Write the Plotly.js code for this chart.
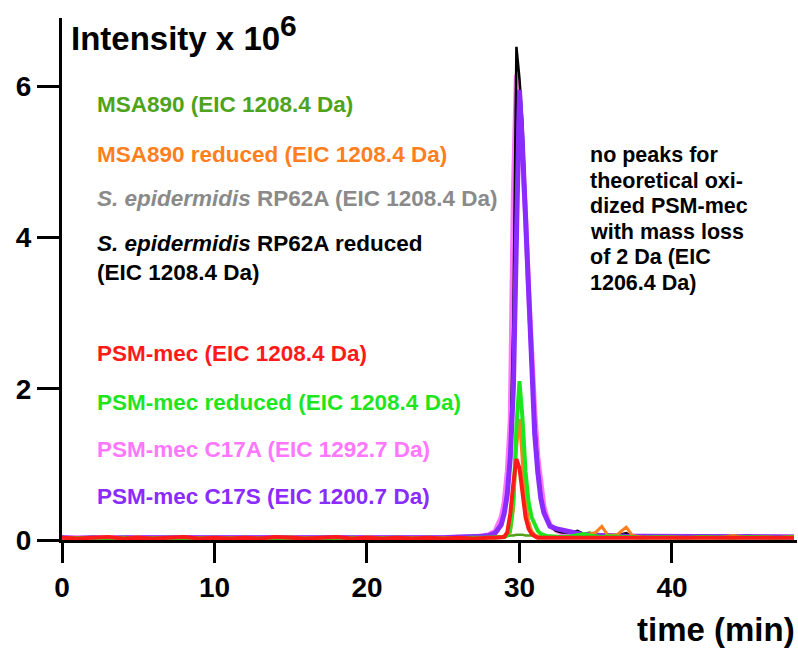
<!DOCTYPE html>
<html>
<head>
<meta charset="utf-8">
<script src="https://cdn.plot.ly/plotly-3.0.1.min.js"></script>
<style>html,body{margin:0;padding:0;background:#fff;}#chart{width:798px;height:653px;}</style>
</head>
<body>
<div id="chart"></div>
<script>
// retention time (min)
const time = [0,1,2,3,4,5,6,7,8,9,10,11,12,13,14,15,16,17,18,19,20,21,22,23,24,25,26,27,
  27.6,28.0,28.4,28.8,29.0,29.2,29.4,29.6,29.8,30.0,30.2,30.4,30.6,30.8,31.0,31.2,31.4,31.6,31.8,32.0,
  32.4,32.8,33.4,33.8,34.2,34.6,35.0,35.4,35.8,36.4,37.0,37.4,
  38,39,40,41,42,43,44,45,46,47,48];

// intensities x 10^6
const msa890 = [0.03,0.02,0.03,0.03,0.02,0.03,0.02,0.03,0.03,0.02,0.03,0.02,0.03,0.03,0.02,0.03,0.02,0.03,0.02,0.03,0.03,0.02,0.03,0.02,0.03,0.03,0.02,0.03,
  0.03,0.04,0.04,0.05,0.05,0.05,0.06,0.06,0.07,0.07,0.07,0.06,0.06,0.06,0.06,0.05,0.05,0.05,0.05,0.05,
  0.05,0.05,0.06,0.08,0.07,0.1,0.06,0.05,0.05,0.05,0.05,0.04,
  0.04,0.03,0.04,0.03,0.04,0.04,0.03,0.04,0.03,0.04,0.03];
const msa890Red = [0.02,0.03,0.03,0.02,0.03,0.04,0.02,0.03,0.02,0.03,0.02,0.03,0.03,0.02,0.03,0.04,0.03,0.02,0.03,0.02,0.04,0.03,0.02,0.03,0.02,0.03,0.03,0.02,
  0.03,0.03,0.03,0.04,0.05,0.06,0.1,0.4,1.2,1.6,1.0,0.5,0.25,0.12,0.07,0.05,0.05,0.04,0.04,0.04,
  0.04,0.05,0.05,0.06,0.05,0.08,0.1,0.18,0.06,0.07,0.17,0.06,
  0.04,0.03,0.04,0.03,0.04,0.03,0.06,0.03,0.04,0.03,0.05];
const rp62a = [0.03,0.02,0.03,0.02,0.03,0.02,0.03,0.02,0.03,0.03,0.02,0.03,0.02,0.03,0.02,0.03,0.03,0.02,0.03,0.02,0.03,0.02,0.03,0.03,0.02,0.03,0.03,0.03,
  0.04,0.06,0.11,0.28,0.48,0.85,1.5,4.4,6.0,5.6,4.9,4.2,3.2,2.3,1.6,1.05,0.65,0.42,0.28,0.19,
  0.12,0.08,0.06,0.05,0.05,0.05,0.05,0.05,0.04,0.04,0.04,0.04,
  0.03,0.03,0.03,0.03,0.03,0.03,0.03,0.03,0.03,0.03,0.03];
const rp62aRed = [0.03,0.03,0.02,0.03,0.02,0.03,0.03,0.02,0.03,0.02,0.03,0.03,0.02,0.03,0.03,0.02,0.03,0.02,0.03,0.03,0.02,0.03,0.02,0.03,0.03,0.02,0.03,0.03,
  0.04,0.05,0.08,0.2,0.35,0.6,1.2,2.9,6.52,6.1,5.5,4.4,3.3,2.3,1.6,1.0,0.6,0.4,0.26,0.18,
  0.12,0.1,0.1,0.12,0.08,0.07,0.06,0.07,0.05,0.06,0.09,0.05,
  0.04,0.04,0.03,0.04,0.03,0.04,0.04,0.06,0.03,0.04,0.03];
const psm = [0.03,0.02,0.03,0.04,0.02,0.03,0.02,0.03,0.04,0.02,0.03,0.02,0.03,0.02,0.04,0.03,0.02,0.03,0.04,0.02,0.03,0.02,0.03,0.02,0.03,0.02,0.03,0.02,
  0.03,0.03,0.03,0.03,0.04,0.1,0.35,0.75,1.07,0.95,0.6,0.3,0.15,0.08,0.05,0.03,0.03,0.03,0.03,0.03,
  0.03,0.02,0.03,0.02,0.03,0.02,0.03,0.02,0.03,0.02,0.03,0.02,
  0.03,0.02,0.03,0.02,0.03,0.02,0.03,0.02,0.03,0.02,0.03];
const psmRed = [0.02,0.03,0.03,0.02,0.03,0.02,0.03,0.03,0.02,0.03,0.03,0.02,0.03,0.02,0.03,0.03,0.02,0.03,0.02,0.03,0.02,0.03,0.03,0.02,0.03,0.02,0.03,0.03,
  0.03,0.03,0.03,0.03,0.04,0.06,0.15,0.5,1.5,2.1,1.6,0.9,0.5,0.3,0.2,0.12,0.08,0.06,0.05,0.05,
  0.04,0.04,0.05,0.06,0.08,0.06,0.05,0.04,0.05,0.04,0.04,0.04,
  0.03,0.04,0.03,0.03,0.04,0.03,0.03,0.04,0.03,0.03,0.04];
const c17a = [0.03,0.03,0.02,0.03,0.03,0.02,0.03,0.02,0.03,0.03,0.02,0.03,0.03,0.02,0.03,0.02,0.03,0.03,0.02,0.03,0.03,0.02,0.03,0.03,0.02,0.03,0.03,0.04,
  0.05,0.07,0.12,0.3,0.5,0.9,1.6,4.6,6.15,5.7,5.0,4.3,3.3,2.4,1.7,1.1,0.7,0.45,0.3,0.2,
  0.13,0.09,0.07,0.06,0.06,0.05,0.05,0.05,0.05,0.05,0.05,0.05,
  0.04,0.04,0.04,0.04,0.04,0.04,0.04,0.04,0.04,0.04,0.04];
const c17s = [0.03,0.02,0.03,0.02,0.03,0.03,0.02,0.03,0.02,0.03,0.03,0.02,0.03,0.02,0.03,0.02,0.03,0.03,0.02,0.03,0.02,0.03,0.03,0.02,0.03,0.03,0.04,0.04,
  0.05,0.06,0.09,0.2,0.35,0.6,1.1,2.0,3.7,5.95,5.2,4.3,3.2,2.2,1.4,0.9,0.55,0.36,0.25,0.18,
  0.15,0.13,0.1,0.08,0.07,0.07,0.06,0.06,0.06,0.05,0.05,0.05,
  0.05,0.04,0.05,0.04,0.04,0.05,0.04,0.04,0.05,0.04,0.04];

const seriesNames = ["MSA890 (EIC 1208.4 Da)","MSA890 reduced (EIC 1208.4 Da)","S. epidermidis RP62A (EIC 1208.4 Da)",
  "S. epidermidis RP62A reduced (EIC 1208.4 Da)","PSM-mec (EIC 1208.4 Da)","PSM-mec reduced (EIC 1208.4 Da)",
  "PSM-mec C17A (EIC 1292.7 Da)","PSM-mec C17S (EIC 1200.7 Da)"];
const noteLines = ["no peaks for","theoretical oxi-","dized PSM-mec","with mass loss","of 2 Da (EIC","1206.4 Da)"];
const xTicks = [0,10,20,30,40];
const yTicks = [0,2,4,6];

const C = {msa:'#4ea21c', msaRed:'#ff7f1e', rp:'#8a8a8a', rpRed:'#000000', psm:'#ff1a1a', psmRed:'#1ee61e', c17a:'#ff77ff', c17s:'#8a2bff'};
const FONT = 'Liberation Sans, Arial, Helvetica, sans-serif';

function tr(y, color, width, name){
  return {x: time, y: y, type:'scatter', mode:'lines', name:name, line:{color:color, width:width}, showlegend:false, hoverinfo:'skip'};
}
const data = [
  tr(rp62a, C.rp, 2, seriesNames[2]),
  tr(msa890, C.msa, 2.5, seriesNames[0]),
  tr(c17a, C.c17a, 5, seriesNames[6]),
  tr(rp62aRed, C.rpRed, 2.5, seriesNames[3]),
  tr(c17s, C.c17s, 5, seriesNames[7]),
  tr(msa890Red, C.msaRed, 3, seriesNames[1]),
  tr(psmRed, C.psmRed, 4, seriesNames[5]),
  tr(psm, C.psm, 4, seriesNames[4])
];

function ann(text, x, y, color, size){
  return {text:text, x:x, y:y, xref:'x', yref:'y', xanchor:'left', yanchor:'middle', showarrow:false,
    font:{family:FONT, size:size, color:color}, align:'left'};
}
const LS = 22.5;
const LX = 2.15;
const annotations = [
  ann('<b>MSA890 (EIC 1208.4 Da)</b>', LX, 5.76, C.msa, LS),
  ann('<b>MSA890 reduced (EIC 1208.4 Da)</b>', LX, 5.09, C.msaRed, LS),
  ann('<b><i>S. epidermidis</i> RP62A (EIC 1208.4 Da)</b>', LX, 4.51, C.rp, LS),
  ann('<b><i>S. epidermidis</i> RP62A reduced</b>', LX, 3.92, C.rpRed, LS),
  ann('<b>(EIC 1208.4 Da)</b>', LX, 3.54, C.rpRed, LS),
  ann('<b>PSM-mec (EIC 1208.4 Da)</b>', LX, 2.47, C.psm, LS),
  ann('<b>PSM-mec reduced (EIC 1208.4 Da)</b>', LX, 1.82, C.psmRed, LS),
  ann('<b>PSM-mec C17A (EIC 1292.7 Da)</b>', LX, 1.20, C.c17a, LS),
  ann('<b>PSM-mec C17S (EIC 1200.7 Da)</b>', LX, 0.58, C.c17s, LS),
  {text:'<b>Intensity x 10<sup><span style="font-size:30px">6</span></sup></b>', xref:'paper', yref:'paper', x:0.010, y:0.972, xanchor:'left', yanchor:'middle',
    showarrow:false, font:{family:FONT, size:33, color:'#000'}},
  {text:'<b>time (min)</b>', xref:'paper', yref:'paper', x:1.0, y:-0.172, xanchor:'right', yanchor:'middle',
    showarrow:false, font:{family:FONT, size:33, color:'#000'}}
];
const noteY0 = 5.09, noteStep = 0.338;
noteLines.forEach(function(s, i){
  annotations.push(ann('<b>' + s + '</b>', 34.5, noteY0 - i*noteStep, '#000', 21.5));
});

const axisCommon = {showgrid:false, zeroline:false, showline:true, linecolor:'#000', linewidth:3,
  ticks:'outside', tickwidth:3, tickcolor:'#000', tickfont:{family:FONT, size:28, color:'#000', weight:'bold'}};

const layout = {
  width:798, height:653,
  margin:{l:62, r:1, t:18, b:113},
  paper_bgcolor:'#fff', plot_bgcolor:'#fff',
  xaxis: Object.assign({}, axisCommon, {range:[0,48.2], tickvals:xTicks, ticktext:xTicks.map(String), ticklen:20}),
  yaxis: Object.assign({}, axisCommon, {range:[0,6.9], tickvals:yTicks, ticktext:yTicks.map(String), ticklen:22}),
  annotations: annotations,
  showlegend:false
};
Plotly.newPlot('chart', data, layout, {staticPlot:true, displayModeBar:false});
</script>
</body>
</html>
